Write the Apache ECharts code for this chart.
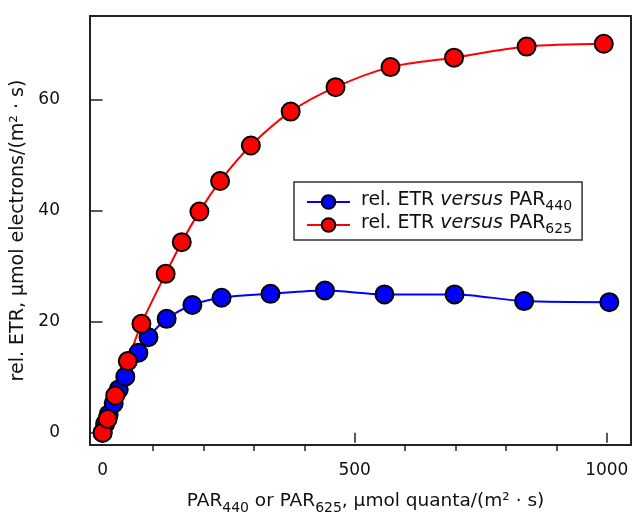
<!DOCTYPE html>
<html>
<head>
<meta charset="utf-8">
<script src="https://cdn.jsdelivr.net/npm/echarts@6/dist/echarts.min.js"></script>
<style>html,body{margin:0;padding:0;background:#fff;}#c{width:632px;height:520px;}</style>
</head>
<body>
<div id="c"></div>
<script>
// PAR440 series (blue)
const par440 = [0, 5, 12, 22, 32, 45, 71, 91, 127, 178, 236, 333, 441, 559, 698, 836, 1005];
const etr440 = [0, 1.6, 3.3, 5.3, 7.8, 10.1, 14.4, 17.2, 20.5, 23.0, 24.3, 25.0, 25.6, 24.9, 24.9, 23.7, 23.5];
// PAR625 series (red)
const par625 = [0, 10, 25, 50, 77, 125, 157, 192, 233, 294, 373, 462, 571, 697, 841, 994];
const etr625 = [0, 2.5, 6.7, 12.9, 19.6, 28.6, 34.3, 39.8, 45.3, 51.7, 57.8, 62.2, 65.8, 67.5, 69.5, 70.0];
// ticks
const xMajorTicks = [0, 500, 1000];
const xMinorTicks = [100, 200, 300, 400, 600, 700, 800, 900];
const yTicks = [0, 20, 40, 60];
const seriesNames = ['rel. ETR versus PAR440', 'rel. ETR versus PAR625'];

const FONT = 'DejaVu Sans';
function rich(size, sub, pad) {
  return {
    n: {fontFamily: FONT, fontSize: size, color: '#111', lineHeight: size, verticalAlign: 'top'},
    i: {fontFamily: FONT, fontSize: size, color: '#111', fontStyle: 'italic', lineHeight: size, verticalAlign: 'top'},
    s: {fontFamily: FONT, fontSize: sub, color: '#111', padding: [pad, 0, 0, 0]},
    sp: {width: 6, lineHeight: size, verticalAlign: 'top'},
    sp2: {width: 10, lineHeight: size, verticalAlign: 'top'}
  };
}

const chart = echarts.init(document.getElementById('c'), null, {renderer: 'canvas'});
chart.setOption({
  backgroundColor: '#fff',
  animation: false,
  grid: {left: 90, right: 1, top: 16, bottom: 71, show: true, borderColor: '#222', borderWidth: 2, backgroundColor: 'transparent'},
  legend: {
    left: 294, top: 182,
    orient: 'vertical',
    data: seriesNames,
    itemWidth: 43, itemHeight: 17, itemGap: 0,
    padding: [8.5, 10, 3.5, 12],
    borderColor: '#333', borderWidth: 1.5, backgroundColor: '#fff',
    formatter: function (name) {
      const sub = name === seriesNames[0] ? '440' : '625';
      return '{sp|}{n|rel. ETR }{i|versus}{n| PAR}{s|' + sub + '}';
    },
    textStyle: {rich: rich(19, 14, 9)}
  },
  xAxis: [{
    type: 'value', min: -25, max: 1048,
    name: '{sp2|}{n|PAR}{s|440}{n| or PAR}{s|625}{n|, μmol quanta/(m² · s)}',
    nameLocation: 'middle', nameGap: 47,
    nameTextStyle: {rich: rich(18.5, 14, 9)},
    axisLine: {show: false},
    splitLine: {show: false},
    axisTick: {show: true, inside: false, length: 10, lineStyle: {color: '#222', width: 1.5}, customValues: xMajorTicks},
    axisLabel: {customValues: xMajorTicks, margin: 17, fontFamily: FONT, fontSize: 17, color: '#111',
      formatter: function (v) { return String(v); }}
  }, {
    type: 'value', min: -25, max: 1048, position: 'bottom',
    axisLine: {show: false}, splitLine: {show: false},
    axisTick: {show: true, length: 6, lineStyle: {color: '#222', width: 1.5}, customValues: xMinorTicks},
    axisLabel: {show: false}
  }],
  yAxis: {
    type: 'value', min: -2.2, max: 75,
    name: 'rel. ETR, μmol electrons/(m² · s)',
    nameLocation: 'middle', nameGap: 48,
    nameTextStyle: {fontFamily: FONT, fontSize: 19, color: '#111'},
    axisLine: {show: false},
    splitLine: {show: false},
    axisTick: {show: true, length: 12, lineStyle: {color: '#222', width: 1.5}, customValues: yTicks},
    axisLabel: {customValues: yTicks, margin: 30, fontFamily: FONT, fontSize: 17, color: '#111'}
  },
  series: [{
    name: seriesNames[0], type: 'line', xAxisIndex: 0,
    data: par440.map((x, k) => [x, etr440[k]]),
    smooth: 0.3, symbol: 'circle', symbolSize: 18,
    lineStyle: {color: '#0000ff', width: 2},
    itemStyle: {color: '#0000ff', borderColor: '#000', borderWidth: 2}
  }, {
    name: seriesNames[1], type: 'line', xAxisIndex: 0,
    data: par625.map((x, k) => [x, etr625[k]]),
    smooth: 0.3, symbol: 'circle', symbolSize: 18,
    lineStyle: {color: '#ff0000', width: 2},
    itemStyle: {color: '#ff0000', borderColor: '#000', borderWidth: 2}
  }]
});
</script>
</body>
</html>
